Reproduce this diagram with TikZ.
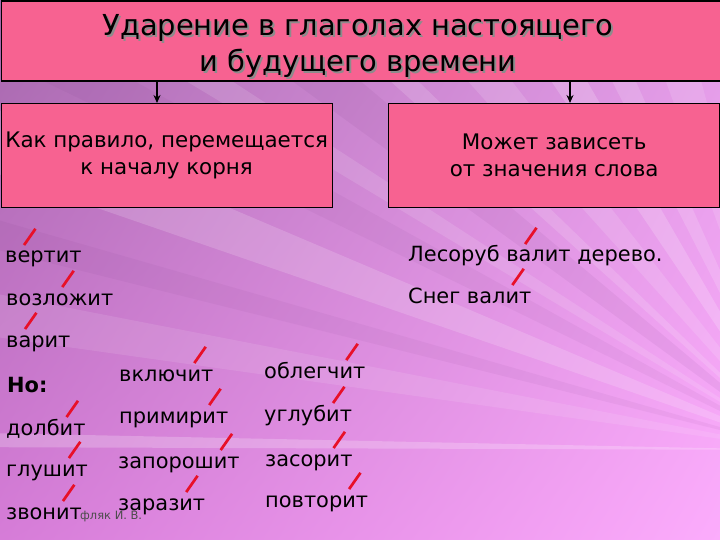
\documentclass[tikz,border=0pt]{standalone}
\usepackage{fontspec}
\setmainfont{DejaVu Sans}
\usetikzlibrary{arrows.meta,shadings}
\definecolor{boxpink}{RGB}{247,98,145}
\definecolor{bgUL}{RGB}{165,105,172}
\definecolor{bgUR}{RGB}{225,155,230}
\definecolor{bgLL}{RGB}{214,124,216}
\definecolor{bgLR}{RGB}{252,172,252}
\definecolor{raydark}{RGB}{110,45,120}
\definecolor{accred}{RGB}{232,16,40}
\newcommand\ac[1]{\leavevmode\setbox0=\hbox{#1}\rlap{\kern0.42\wd0\raisebox{1.5ex}{\textcolor{accred}{\rotatebox{55}{\rule{0.95em}{0.13em}}}}}\box0}
\tikzset{
  wrd/.style={font=\fontsize{21}{25}\selectfont, inner sep=0pt, anchor=base west, text=black},
  pinkbox/.style={draw=black, line width=1.3bp, fill=boxpink, inner sep=0pt, anchor=north west, align=center, font=\fontsize{21.5}{27}\selectfont},
  arr/.style={-{Stealth[length=8bp,width=7bp]}, line width=1.6bp, black},
  titletext/.style={font=\fontsize{29}{37}\selectfont, align=center, inner sep=0pt},
  lightray/.style={fill=white},
  darkray/.style={fill=raydark}
}
\begin{document}
\begin{tikzpicture}[x=1bp,y=-1bp]
\useasboundingbox (0,0) rectangle (720,540);
\begin{scope}
\clip (0,0) rectangle (720,540);
\shade[upper left=bgUL, upper right=bgUR, lower left=bgLL, lower right=bgLR] (0,0) rectangle (720,540);
\foreach \a/\b/\s/\o in {180.2/181.2/lightray/.22, 188/191/lightray/.1, 194/196/darkray/.06, 199/203/lightray/.16, 206/209/darkray/.06, 211/213/lightray/.12, 216/220/darkray/.07, 222/224/lightray/.14, 228/232/lightray/.13, 236/240/lightray/.18, 243/246/lightray/.15, 250/255/lightray/.12}
  \fill[\s, opacity=\o] (800,450) -- +(\a:1200) -- +(\b:1200) -- cycle;
\end{scope}

% title
\node[draw=black, line width=1.3bp, fill=boxpink, anchor=north west, minimum width=719bp, minimum height=80bp, inner sep=0pt] (titlebox) at (0.5,0.5) {};
\node[titletext, text=black!45] (titleshadow) at (360,48) {Ударение в глаголах настоящего\\и будущего времени};
\node[titletext, text=black] (title) at (358,46) {Ударение в глаголах настоящего\\и будущего времени};

% boxes
\node[pinkbox, minimum width=331bp, minimum height=104bp] (lbox) at (0.5,103) {Как правило, перемещается\\к началу корня};
\node[pinkbox, minimum width=331bp, minimum height=104bp] (rbox) at (388,103) {Может зависеть\\от значения слова};

\draw[arr] (titlebox.south -| 157,0) -- (lbox.north -| 157,0);
\draw[arr] (titlebox.south -| 570,0) -- (rbox.north -| 570,0);

% left column
\node[wrd] (w1) at (5,263) {в\ac{е}ртит};
\node[wrd] (w2) at (6,305) {возл\ac{о}жит};
\node[wrd] (w3) at (6,347) {в\ac{а}рит};
\node[wrd, font=\fontsize{21}{25}\selectfont\bfseries] (no) at (7,392) {Но:};
\node[wrd] (w4) at (6,435) {долб\ac{и}т};
\node[wrd] (w5) at (6,476) {глуш\ac{и}т};
\node[inner sep=0pt, anchor=base west, font=\fontsize{11.5}{13}\selectfont, text=black!70] (author) at (80,519) {фляк И. В.};
\node[wrd] (w6) at (6,519) {звон\ac{и}т};

% middle column
\node[wrd] (m1) at (119,381) {включ\ac{и}т};
\node[wrd] (m2) at (119,423) {примир\ac{и}т};
\node[wrd] (m3) at (118,468) {запорош\ac{и}т};
\node[wrd] (m4) at (118,510) {зараз\ac{и}т};

% right column
\node[wrd] (r1) at (264,378) {облегч\ac{и}т};
\node[wrd] (r2) at (264,421) {углуб\ac{и}т};
\node[wrd] (r3) at (265,466) {засор\ac{и}т};
\node[wrd] (r4) at (265,507) {повтор\ac{и}т};

% right examples
\node[wrd] (s1) at (408,262) {Лесоруб в\ac{а}лит дерево.};
\node[wrd] (s2) at (408,303) {Снег вал\ac{и}т};
\end{tikzpicture}
\end{document}
